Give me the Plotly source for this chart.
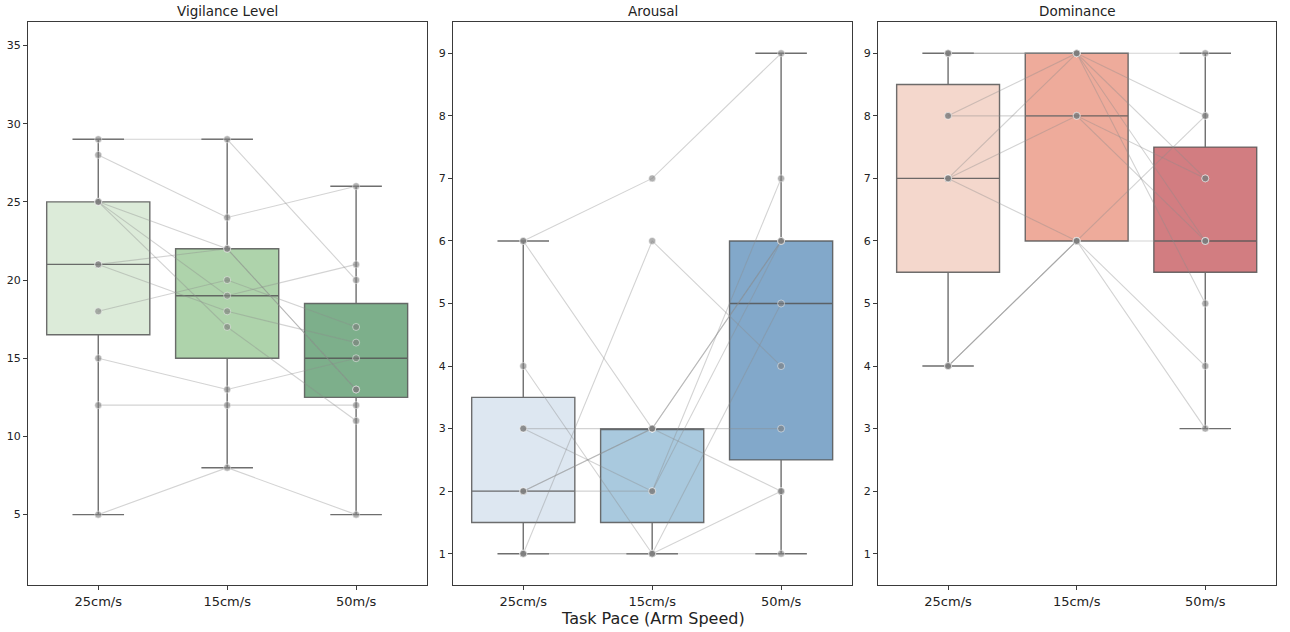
import numpy as np
import plotly.graph_objects as go

# ---------------- data ----------------
speeds = ["25cm/s", "15cm/s", "50m/s"]
panel_titles = ["Vigilance Level", "Arousal", "Dominance"]
x_title = "Task Pace (Arm Speed)"

# one row per participant: values at 25cm/s, 15cm/s, 50m/s
vigilance_25 = [29, 28, 25, 21, 25, 18, 25, 21, 15, 12, 5]
vigilance_15 = [29, 24, 22, 22, 19, 20, 17, 18, 13, 12, 8]
vigilance_50 = [20, 26, 13, 13, 21, 17, 11, 16, 15, 12, 5]

arousal_25 = [6, 6, 4, 3, 3, 2, 2, 1, 1, 2, 1]
arousal_15 = [7, 3, 1, 2, 3, 3, 2, 6, 1, 3, 1]
arousal_50 = [9, 2, 5, 7, 3, 6, 6, 4, 1, 6, 2]

dominance_25 = [9, 9, 9, 8, 8, 7, 7, 7, 4, 4, 4]
dominance_15 = [9, 9, 9, 9, 8, 9, 8, 6, 6, 6, 6]
dominance_50 = [9, 8, 5, 7, 6, 6, 7, 6, 8, 4, 3]

green_fills = ["#dcebd9", "#aed3ab", "#7daf8b"]
blue_fills = ["#dde7f1", "#a9c9de", "#82a8ca"]
red_fills = ["#f4d7cc", "#eeab9b", "#d27d81"]

y_ticks_vig = [5, 10, 15, 20, 25, 30, 35]
y_ticks_9 = [1, 2, 3, 4, 5, 6, 7, 8, 9]
y_range_vig = [0.5, 36.5]
y_range_9 = [0.5, 9.5]

panels = [
    ([vigilance_25, vigilance_15, vigilance_50], green_fills, y_ticks_vig, y_range_vig),
    ([arousal_25, arousal_15, arousal_50], blue_fills, y_ticks_9, y_range_9),
    ([dominance_25, dominance_15, dominance_50], red_fills, y_ticks_9, y_range_9),
]

# ---------------- figure ----------------
W, H = 1290, 632


def fx(px):
    return px / W


def fy(py):
    return 1 - py / H


x_domains = [(fx(28), fx(427)), (fx(453), fx(852)), (fx(878), fx(1276))]
y_domain = (fy(585), fy(22))

fig = go.Figure()
FONT = "DejaVu Sans"

for p, (series, fills, yt, yr) in enumerate(panels):
    xa = "x" if p == 0 else f"x{p+1}"
    ya = "y" if p == 0 else f"y{p+1}"
    # boxes (1.5 IQR whiskers, outlier markers hidden)
    for c, vals in enumerate(series):
        fig.add_trace(go.Box(
            x=[c] * len(vals), y=vals, xaxis=xa, yaxis=ya,
            boxpoints="outliers", quartilemethod="inclusive",
            marker=dict(opacity=0, size=1),
            fillcolor=fills[c],
            line=dict(color="rgba(85,85,85,0.85)", width=1.4),
            whiskerwidth=0.5, width=0.8,
            showlegend=False, hoverinfo="skip",
        ))
    # participant lines
    n = len(series[0])
    for i in range(n):
        fig.add_trace(go.Scatter(
            x=[0, 1, 2], y=[series[0][i], series[1][i], series[2][i]],
            xaxis=xa, yaxis=ya, mode="lines+markers",
            line=dict(color="rgba(140,140,140,0.38)", width=1.1),
            marker=dict(size=7, color="rgba(125,125,125,0.6)",
                        line=dict(color="rgba(255,255,255,0.6)", width=0.8)),
            showlegend=False, hoverinfo="skip",
        ))

    axis_common = dict(showline=True, mirror=True, linecolor="#3a3a3a", linewidth=1,
                       showgrid=False, zeroline=False, ticks="outside", ticklen=4,
                       tickcolor="#3a3a3a")
    xkey = "xaxis" if p == 0 else f"xaxis{p+1}"
    ykey = "yaxis" if p == 0 else f"yaxis{p+1}"
    fig.update_layout({
        xkey: dict(domain=list(x_domains[p]), anchor=ya, range=[-0.545, 2.55],
                   tickmode="array", tickvals=[0, 1, 2], ticktext=speeds,
                   tickfont=dict(family=FONT, size=13, color="#222"), **axis_common),
        ykey: dict(domain=list(y_domain), anchor=xa, range=yr,
                   tickmode="array", tickvals=yt,
                   tickfont=dict(family=FONT, size=11, color="#222"), **axis_common),
    })
    fig.add_annotation(text=panel_titles[p], xref="paper", yref="paper",
                       x=(x_domains[p][0] + x_domains[p][1]) / 2, y=fy(11),
                       xanchor="center", yanchor="middle", showarrow=False,
                       font=dict(family=FONT, size=13.5, color="#222"))

fig.add_annotation(text=x_title, xref="paper", yref="paper",
                   x=(x_domains[1][0] + x_domains[1][1]) / 2, y=fy(618),
                   xanchor="center", yanchor="middle", showarrow=False,
                   font=dict(family=FONT, size=16, color="#222"))

fig.update_layout(width=W, height=H, margin=dict(l=0, r=0, t=0, b=0),
                  paper_bgcolor="white", plot_bgcolor="white", boxgap=0.2)

fig.write_html("out.html", config={"displayModeBar": False},
               post_script="document.body.style.margin='0';document.body.style.overflow='hidden';")
